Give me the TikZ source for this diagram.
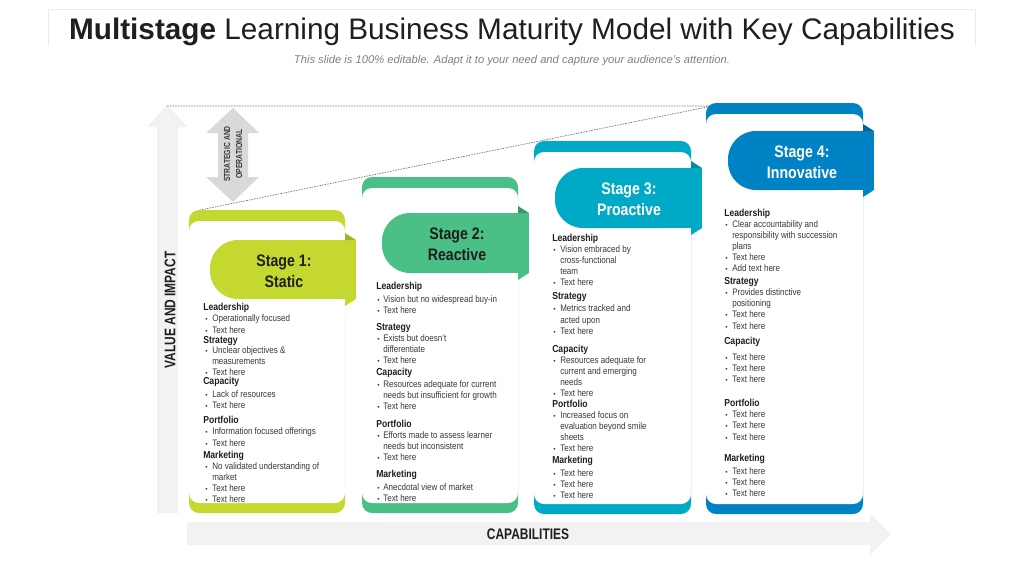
\documentclass[tikz,border=0pt]{standalone}
\usepackage{fontspec}
\setmainfont{Liberation Sans}
\newfontfamily\narrow[FakeStretch=0.85]{Liberation Sans}
\newfontfamily\narrowx[FakeStretch=0.78]{Liberation Sans}
\definecolor{cA}{HTML}{C5D82F}
\definecolor{cAd}{HTML}{A3B326}
\definecolor{cB}{HTML}{4ABF86}
\definecolor{cBd}{HTML}{379A69}
\definecolor{cC}{HTML}{00A9C6}
\definecolor{cCd}{HTML}{0089A2}
\definecolor{cD}{HTML}{0083C4}
\definecolor{cDd}{HTML}{00669A}
\definecolor{txt}{HTML}{3A3A3A}
\definecolor{hdtxt}{HTML}{1F1F1F}
\definecolor{lightarrow}{HTML}{F2F2F2}
\definecolor{midarrow}{HTML}{D9D9D9}
\newcommand\stagecard[9]{%
  \fill[#8, rounded corners=7.5pt] (#1,#2) rectangle (#3,#4);
  \fill[white, rounded corners=7.5pt] (#1,#2+11) rectangle (#3,#4-10);
  \fill[#8, rounded corners=21pt] (#5,#6) rectangle (#3,#7);
  \fill[#8] (#5+40,#6) rectangle (#3+11,#7);
  \fill[#8] (#3,#7) -- (#3+11,#7-2) -- (#3+11,#7) -- (#3,#7+7) -- cycle;
  \fill[#9] (#3,#6-7) -- (#3+11,#6) -- (#3,#6) -- cycle;
}
\tikzset{
  bt/.style={font=\narrow\fontsize{7.1}{8}\selectfont, text=txt, anchor=west, inner sep=0pt, text height=4.9pt, text depth=1.4pt},
  bul/.style={font=\fontsize{5}{6}\selectfont, text=txt, anchor=west, inner sep=0pt, text height=3pt, text depth=0pt},
  hd/.style={font=\narrow\bfseries\fontsize{7.6}{9}\selectfont, text=hdtxt, anchor=west, inner sep=0pt, text height=5.5pt, text depth=1.6pt},
  stt/.style={font=\narrow\bfseries\fontsize{12.5}{15.8}\selectfont, align=center, inner sep=0pt},
  axlbl/.style={font=\narrowx\bfseries\fontsize{11.5}{13}\selectfont, text=hdtxt, inner sep=0pt},
  dashline/.style={draw=black!55, line width=0.5pt, dash pattern=on 1.2pt off 0.8pt},
}
\begin{document}
\begin{tikzpicture}[x=0.75pt, y=-0.75pt]
\useasboundingbox (0,0) rectangle (1024,576);
% title frame
\draw[draw=black!8, line width=0.5pt] (48,45) -- (48,9) -- (975,9) -- (975,45);
\node[inner sep=0pt, text=hdtxt, font=\fontsize{22.3}{26}\selectfont] (title) at (512,32) {\textbf{Multistage} Learning Business Maturity Model with Key Capabilities};
\node[inner sep=0pt, text=black!50, font=\itshape\fontsize{8.4}{10}\selectfont] (subtitle) at (512,61) {This slide is 100\% editable. Adapt it to your need and capture your audience’s attention.};
% value arrow
\fill[lightarrow] (167,105) -- (188,127) -- (178,127) -- (178,513) -- (157,513) -- (157,127) -- (147,127) -- cycle;
\node[axlbl, rotate=90] (vlab) at (170,310) {VALUE AND IMPACT};
% capabilities arrow
\fill[lightarrow] (187,522) -- (870,522) -- (870,513) -- (891,534) -- (870,555) -- (870,545) -- (187,545) -- cycle;
\node[axlbl] (hlab) at (528,534) {CAPABILITIES};
% strategic double arrow
\fill[midarrow] (233,108) -- (259,133) -- (248,133) -- (248,177) -- (259,177) -- (233,202) -- (206,177) -- (218,177) -- (218,133) -- (206,133) -- cycle;
\node[rotate=90, align=center, inner sep=0pt, text=txt, font=\narrowx\bfseries\fontsize{6.6}{9}\selectfont] (slab) at (233,154) {STRATEGIC AND\\OPERATIONAL};
% dashed guide lines
\coordinate (dtop) at (167,106);
\coordinate (dcorner) at (712,106);
\coordinate (dlow) at (200,210);
\draw[dashline] (dtop) -- (dcorner) -- (dlow);
% cards
\stagecard{189}{210}{345}{513}{210}{240}{299}{cA}{cAd}
\stagecard{362}{177}{518}{513}{382}{213}{273}{cB}{cBd}
\stagecard{534}{141}{691}{514}{555}{168}{228}{cC}{cCd}
\stagecard{706}{103}{863}{514}{728}{131}{190}{cD}{cDd}
\node[stt, text=hdtxt] (s1title) at (284,271) {Stage 1:\\Static};
\node[stt, text=hdtxt] (s2title) at (457,244) {Stage 2:\\Reactive};
\node[stt, text=white] (s3title) at (629,199) {Stage 3:\\Proactive};
\node[stt, text=white] (s4title) at (802,162) {Stage 4:\\Innovative};
% stage 1 text
\foreach \y/\t [count=\i] in {308/Leadership, 341/Strategy, 382/Capacity, 421/Portfolio, 456/Marketing}
  \node[hd] (s1h\i) at (203,\y) {\t};
\foreach \y/\b/\t [count=\i] in {319/1/Operationally focused, 331/1/Text here, 351/1/Unclear objectives \&, 362/0/measurements, 373/1/Text here, 395/1/Lack of resources, 406/1/Text here, 432/1/Information focused offerings, 444/1/Text here, 467/1/No validated understanding of, 478/0/market, 489/1/Text here, 500/1/Text here}
  {\node[bt] (s1l\i) at (212,\y) {\t};
   \ifnum\b=1 \node[bul] (s1b\i) at (205,\y) {\textbullet};\fi}
% stage 2 text
\foreach \y/\t [count=\i] in {287/Leadership, 328/Strategy, 373/Capacity, 425/Portfolio, 475/Marketing}
  \node[hd] (s2h\i) at (376,\y) {\t};
\foreach \y/\b/\t [count=\i] in {300/1/Vision but no widespread buy-in, 311/1/Text here, 339/1/Exists but doesn’t, 350/0/differentiate, 361/1/Text here, 385/1/Resources adequate for current, 396/0/needs but insufficient for growth, 407/1/Text here, 436/1/Efforts made to assess learner, 447/0/needs but inconsistent, 458/1/Text here, 488/1/Anecdotal view of market, 499/1/Text here}
  {\node[bt] (s2l\i) at (383,\y) {\t};
   \ifnum\b=1 \node[bul] (s2b\i) at (377,\y) {\textbullet};\fi}
% stage 3 text
\foreach \y/\t [count=\i] in {239/Leadership, 297/Strategy, 350/Capacity, 405/Portfolio, 461/Marketing}
  \node[hd] (s3h\i) at (552,\y) {\t};
\foreach \y/\b/\t [count=\i] in {250/1/Vision embraced by, 261/0/cross-functional, 272/0/team, 283/1/Text here, 309/1/Metrics tracked and, 321/0/acted upon, 332/1/Text here, 361/1/Resources adequate for, 372/0/current and emerging, 383/0/needs, 394/1/Text here, 416/1/Increased focus on, 427/0/evaluation beyond smile, 438/0/sheets, 449/1/Text here, 474/1/Text here, 485/1/Text here, 496/1/Text here}
  {\node[bt] (s3l\i) at (560,\y) {\t};
   \ifnum\b=1 \node[bul] (s3b\i) at (553,\y) {\textbullet};\fi}
% stage 4 text
\foreach \y/\t [count=\i] in {214/Leadership, 282/Strategy, 342/Capacity, 404/Portfolio, 459/Marketing}
  \node[hd] (s4h\i) at (724,\y) {\t};
\foreach \y/\b/\t [count=\i] in {225/1/Clear accountability and, 236/0/responsibility with succession, 247/0/plans, 258/1/Text here, 269/1/Add text here, 293/1/Provides distinctive, 304/0/positioning, 315/1/Text here, 327/1/Text here, 358/1/Text here, 369/1/Text here, 380/1/Text here, 415/1/Text here, 426/1/Text here, 438/1/Text here, 472/1/Text here, 483/1/Text here, 494/1/Text here}
  {\node[bt] (s4l\i) at (732,\y) {\t};
   \ifnum\b=1 \node[bul] (s4b\i) at (725,\y) {\textbullet};\fi}
\end{tikzpicture}
\end{document}
